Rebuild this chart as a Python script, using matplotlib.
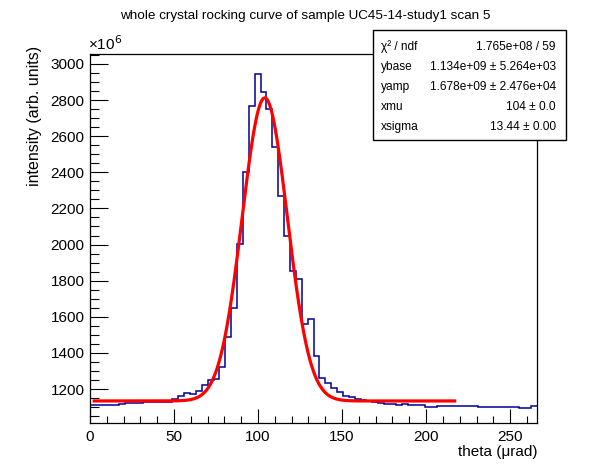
import numpy as np
import matplotlib
matplotlib.use("Agg")
import matplotlib.pyplot as plt
from matplotlib.patches import Rectangle
from matplotlib.ticker import MultipleLocator

plt.rcParams['font.family'] = ['Liberation Sans', 'DejaVu Sans']

# ---- data (intensity in units of 1e6) ----
theta_lo = 0.0
theta_hi = 266.0
hist_values = [
    1110, 1110, 1110, 1110, 1110, 1115, 1121, 1121, 1121, 1126,
    1126, 1128, 1128, 1130, 1143, 1160, 1176, 1171, 1189, 1222,
    1250, 1254, 1320, 1486, 1647, 2001, 2400, 2766, 2943, 2846,
    2752, 2539, 2267, 2047, 1855, 1808, 1558, 1586, 1383, 1259,
    1232, 1206, 1183, 1160, 1154, 1145, 1138, 1133, 1126, 1121,
    1117, 1117, 1110, 1117, 1110, 1110, 1110, 1102, 1102, 1104,
    1104, 1104, 1104, 1104, 1104, 1104, 1099, 1099, 1099, 1099,
    1099, 1099, 1099, 1093, 1093, 1106,
]
# fit parameters (ybase, yamp in 1e6 units)
ybase = 1134.0
yamp = 1678.0
xmu = 104.0
xsigma = 13.44
fit_lo, fit_hi = 2.5, 217.0

stats_labels = ["χ² / ndf", "ybase", "yamp", "xmu", "xsigma"]
stats_values = ["1.765e+08 / 59", "1.134e+09 ± 5.264e+03",
                "1.678e+09 ± 2.476e+04", "104 ± 0.0", "13.44 ± 0.00"]

title = "whole crystal rocking curve of sample UC45-14-study1 scan 5"
xlabel = "theta (μrad)"
ylabel = "intensity (arb. units)"

# ---- figure ----
W, H = 596, 472
fig = plt.figure(figsize=(W / 100, H / 100), dpi=100)
L, R, T, B = 90, 537, 54, 423
ax = fig.add_axes([L / W, 1 - B / H, (R - L) / W, (B - T) / H])

edges = np.linspace(theta_lo, theta_hi, len(hist_values) + 1)
ax.stairs(hist_values, edges, baseline=None, color="#000099", lw=1.1, zorder=2)

xf = np.linspace(fit_lo, fit_hi, 600)
yf = ybase + yamp * np.exp(-0.5 * ((xf - xmu) / xsigma) ** 2)
ax.plot(xf, yf, color="#ff0000", lw=2.3, zorder=3)

ax.set_xlim(theta_lo, theta_hi)
ax.set_ylim(1012, 3055)

ax.xaxis.set_major_locator(MultipleLocator(50))
ax.xaxis.set_minor_locator(MultipleLocator(10))
ax.yaxis.set_major_locator(MultipleLocator(200))
ax.yaxis.set_minor_locator(MultipleLocator(50))
ax.tick_params(which="both", direction="in", top=False, right=False,
               labelsize=11, width=0.8, color="black")
ax.tick_params(axis="x", which="major", length=10, pad=5)
ax.tick_params(axis="x", which="minor", length=5)
ax.tick_params(axis="y", which="major", length=13, pad=4)
ax.tick_params(axis="y", which="minor", length=6.5)
for s in ax.spines.values():
    s.set_linewidth(0.9)

fig.text(305 / W, 1 - 16 / H, title, ha="center", va="center", fontsize=9.7)
fig.text(R / W, 1 - 452 / H, xlabel, ha="right", va="center", fontsize=11)
fig.text(35 / W, 1 - 46 / H, ylabel, ha="center", va="top", rotation=90, fontsize=11.5)
fig.text(88 / W, 1 - 53 / H, "×10$^{6}$", ha="left", va="bottom", fontsize=11)

# stats box
bx0, bx1, by0, by1 = 373, 566, 30, 140
fig.patches.append(Rectangle((bx0 / W, 1 - by1 / H), (bx1 - bx0) / W, (by1 - by0) / H,
                             transform=fig.transFigure, facecolor="white",
                             edgecolor="black", lw=1.0, zorder=10))
row_y = [46.7, 66.7, 86.7, 106.7, 126.7]
for lab, val, yy in zip(stats_labels, stats_values, row_y):
    t1 = fig.text(381 / W, 1 - yy / H, lab, ha="left", va="center", fontsize=8.6)
    t2 = fig.text(556 / W, 1 - yy / H, val, ha="right", va="center", fontsize=8.6)
    t1.set_zorder(11)
    t2.set_zorder(11)

fig.savefig("out.png", dpi=100)
